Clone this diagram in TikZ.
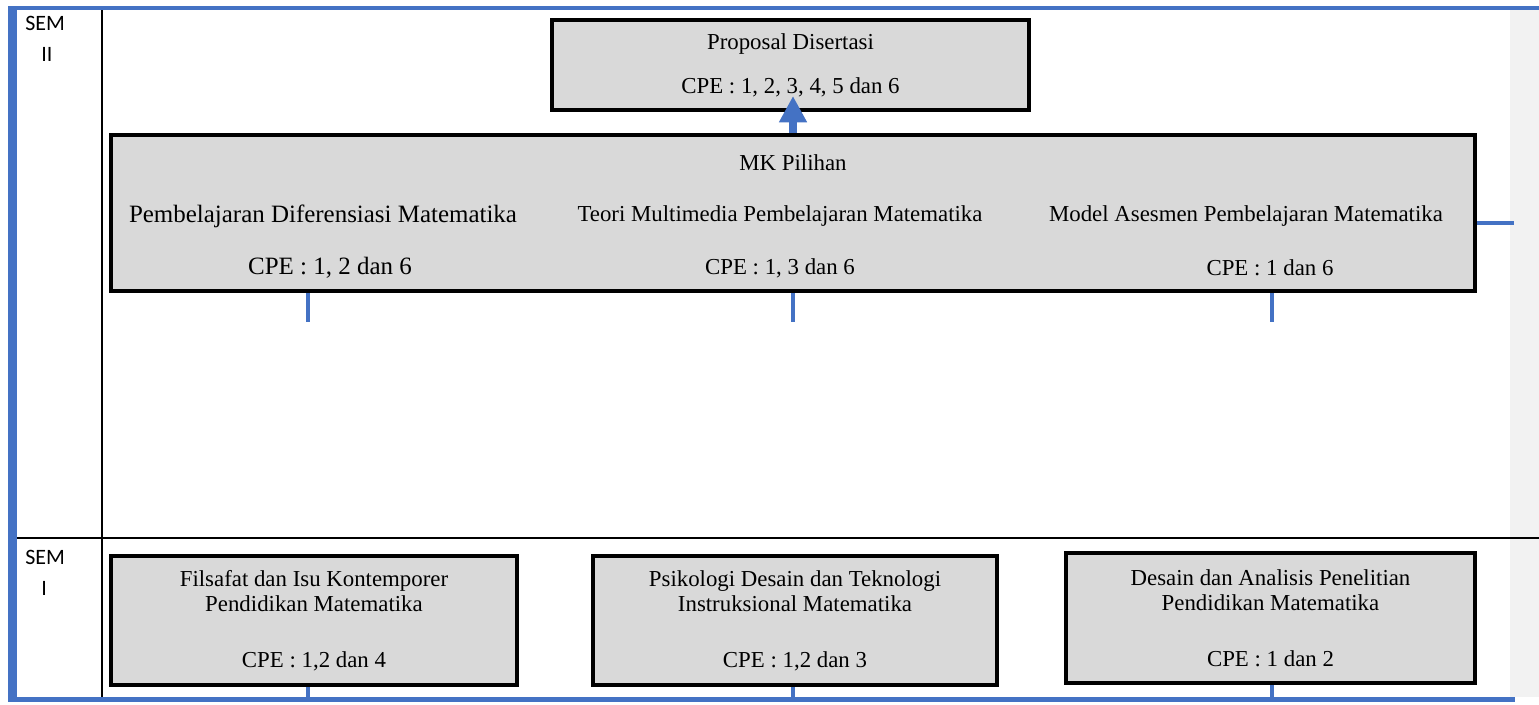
\documentclass[tikz,border=0pt]{standalone}
\usepackage{fontspec}
\setmainfont{Liberation Serif}
\newfontfamily\semfont{Carlito}
\usepackage{tikz}
\usetikzlibrary{arrows.meta}
\definecolor{wordblue}{HTML}{4472C4}
\definecolor{boxgray}{HTML}{D9D9D9}
\definecolor{stripgray}{HTML}{F2F2F2}

\begin{document}
\begin{tikzpicture}[x = 0.02cm, y = -0.02cm,
  mkbox/.style = {draw, fill = boxgray, line width = 2.3pt, shape = rectangle, inner sep = 0pt, align = center},
  txt/.style = {font = \fontsize{13}{16}\selectfont, align = center, inner sep = 0pt},
  stub/.style = {draw = wordblue, line width = 2.2pt},
  sem/.style = {font = \semfont\fontsize{12.5}{15}\selectfont, anchor = base west, inner sep = 0pt}]
\useasboundingbox (0,0) rectangle (1539,704);
% frame
\fill[stripgray] (1510,9) rectangle (1539,697);
\draw[line width = 0.8pt] (102,9) -- (102,697);
\draw[line width = 0.8pt] (17,538) -- (1539,538);
\fill[wordblue] (8,6) rectangle (1539,9.5);
\fill[wordblue] (8,6) rectangle (17,702);
\fill[wordblue] (8,697) rectangle (1515,702);
\node[sem] (sem2) at (25,30) {SEM};
\node[sem] (sem2n) at (41,61) {II};
\node[sem] (sem1) at (25,564) {SEM};
\node[sem] (sem1n) at (41,595) {I};

% semester II
\node[mkbox, minimum width = 9.54cm, minimum height = 1.8cm, font = \fontsize{13}{25}\selectfont] (prop) at (790.5,65) {Proposal Disertasi\\CPE : 1, 2, 3, 4, 5 dan 6};
\node[mkbox, minimum width = 27.28cm, minimum height = 3.12cm] (mk) at (793,213) {};
\node[txt] (mkp) at (793,163) {MK Pilihan};
\node[txt, font = \fontsize{14.2}{17}\selectfont] (pdm) at (323,216) {Pembelajaran Diferensiasi Matematika};
\node[txt, font = \fontsize{14.2}{17}\selectfont] (pdmc) at (330,268) {CPE : 1, 2 dan 6};
\node[txt] (tmpm) at (780,216) {Teori Multimedia Pembelajaran Matematika};
\node[txt] (tmpmc) at (780,268) {CPE : 1, 3 dan 6};
\node[txt] (mapm) at (1246,216) {Model Asesmen Pembelajaran Matematika};
\node[txt] (mapmc) at (1270,268) {CPE : 1 dan 6};

% semester I
\node[mkbox, minimum width = 8.12cm, minimum height = 2.58cm, font = \fontsize{13}{14.2}\selectfont] (fil) at (314,620.5) {Filsafat dan Isu Kontemporer\\Pendidikan Matematika\\[17.5pt]CPE : 1,2 dan 4};
\node[mkbox, minimum width = 8.08cm, minimum height = 2.58cm, font = \fontsize{13}{14.2}\selectfont] (psi) at (795,620.5) {Psikologi Desain dan Teknologi\\Instruksional Matematika\\[17.5pt]CPE : 1,2 dan 3};
\node[mkbox, minimum width = 8.18cm, minimum height = 2.6cm, font = \fontsize{13}{14.2}\selectfont] (dap) at (1270.5,618) {Desain dan Analisis Penelitian\\Pendidikan Matematika\\[17.5pt]CPE : 1 dan 2};

% connectors
\coordinate (tip) at (793,96);
\draw[wordblue, line width = 4.5pt, -{Triangle[width = 15pt, length = 15pt]}] (tip |- mk.north) -- (tip);
\coordinate (a1) at (308,322);
\coordinate (a2) at (793,322);
\coordinate (a3) at (1272,322);
\draw[stub] (a1 |- mk.south) -- (a1);
\draw[stub] (a2 |- mk.south) -- (a2);
\draw[stub] (a3 |- mk.south) -- (a3);
\coordinate (r1) at (1514,223);
\draw[stub] (mk.east |- r1) -- (r1);
\coordinate (b1) at (308,697);
\coordinate (b2) at (793,697);
\coordinate (b3) at (1272,697);
\draw[stub] (b1 |- fil.south) -- (b1);
\draw[stub] (b2 |- psi.south) -- (b2);
\draw[stub] (b3 |- dap.south) -- (b3);
\end{tikzpicture}
\end{document}
